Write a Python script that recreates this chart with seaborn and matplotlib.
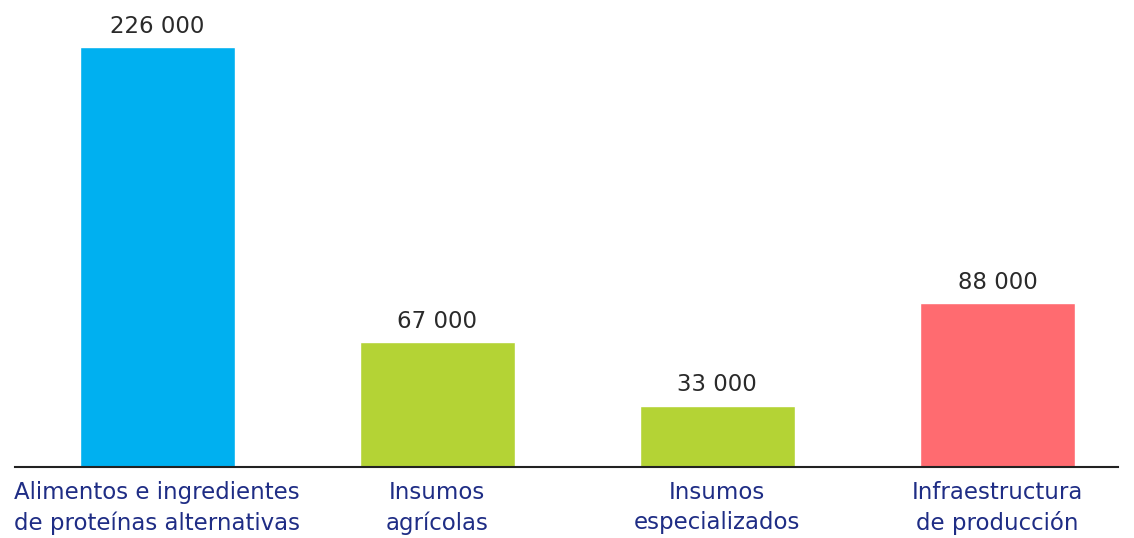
import matplotlib
matplotlib.use("Agg")
import matplotlib.pyplot as plt
import seaborn as sns
import pandas as pd

categories = ["Alimentos e ingredientes\nde proteínas alternativas",
              "Insumos\nagrícolas",
              "Insumos\nespecializados",
              "Infraestructura\nde producción"]
values = [226000, 67000, 33000, 88000]
colors = ["#00b0f0", "#b4d335", "#b4d335", "#ff6b70"]

sns.set_theme(style="white")
plt.rcParams["font.family"] = ["DejaVu Sans"]

df = pd.DataFrame({"cat": categories, "val": values})

fig = plt.figure(figsize=(11.34, 5.38), dpi=100)
ax = fig.add_axes([15 / 1134, (538 - 467) / 538, (1118 - 15) / 1134, 457 / 538])

sns.barplot(data=df, x="cat", y="val", hue="cat", palette=colors,
            width=0.553, saturation=1, legend=False, ax=ax)

ax.set_xlim(-0.507, 3.43)
ax.set_ylim(0, 245900)
ax.set_xlabel("")
ax.set_ylabel("")
ax.set_yticks([])
for s in ["top", "right", "left"]:
    ax.spines[s].set_visible(False)
ax.spines["bottom"].set_color("#222222")
ax.spines["bottom"].set_linewidth(1.5)
ax.tick_params(axis="x", length=0, pad=10, labelsize=16.5, colors="#1f2d85")
for lbl in ax.get_xticklabels():
    lbl.set_linespacing(1.4)

for i, v in enumerate(values):
    ax.text(i, v + 5000, f"{v:,}".replace(",", " "), ha="center", va="bottom",
            fontsize=16.5, color="#2a2a2a")

fig.savefig("out.png", dpi=100)
